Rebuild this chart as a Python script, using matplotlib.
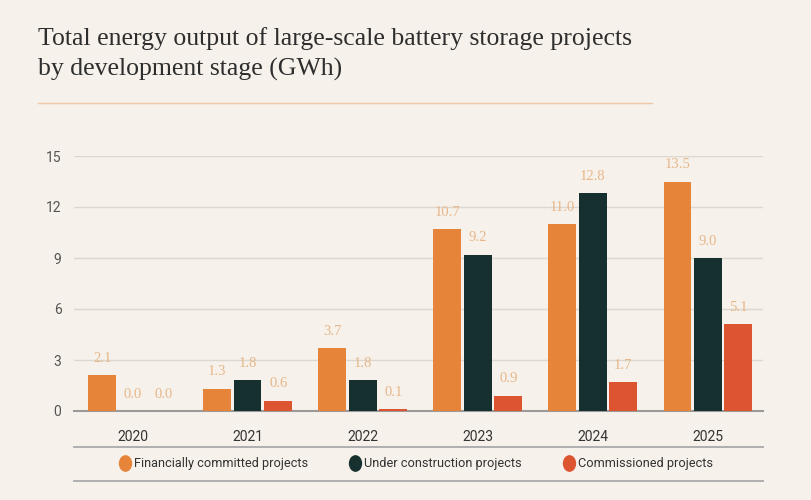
import numpy as np
import matplotlib
matplotlib.use("Agg")
import matplotlib.pyplot as plt
from matplotlib.lines import Line2D
from matplotlib.path import Path
from matplotlib.transforms import Affine2D

# data
years = ["2020", "2021", "2022", "2023", "2024", "2025"]
financially_committed = [2.1, 1.3, 3.7, 10.7, 11.0, 13.5]
under_construction = [0.0, 1.8, 1.8, 9.2, 12.8, 9.0]
commissioned = [0.0, 0.6, 0.1, 0.9, 1.7, 5.1]
series_names = ["Financially committed projects", "Under construction projects", "Commissioned projects"]
yticks = [0, 3, 6, 9, 12, 15]

bg = "#F6F1EA"
colors = ["#E6843A", "#16302F", "#DD5431"]
label_color = "#E7B78A"

W, H = 812, 500
fig = plt.figure(figsize=(W / 100, H / 100), dpi=100, facecolor=bg)
# axes box in pixel terms: x 74..763, y 156..411
ax = fig.add_axes([74 / W, (H - 411) / H, (763 - 74) / W, (411 - 156) / H])
ax.set_facecolor(bg)

x = np.arange(len(years))
step = 0.265
width = 0.24
series = [financially_committed, under_construction, commissioned]
for k, vals in enumerate(series):
    pos = x + (k - 1) * step
    ax.bar(pos, vals, width=width, color=colors[k], zorder=3)
    for px, v in zip(pos, vals):
        ax.annotate(f"{v:.1f}", (px, v), xytext=(0, 7.5), textcoords="offset points",
                    ha="center", va="bottom", color=label_color, fontsize=10.5,
                    family="Liberation Serif", zorder=4, annotation_clip=False)

ax.set_xlim(-0.51, 5.48)
ax.set_ylim(0, 15)
ax.set_yticks(yticks)
ax.set_yticklabels([str(t) for t in yticks], family="Roboto", fontsize=10, color="#555555")
ax.set_xticks(x)
ax.set_xticklabels(years, family="Roboto", fontsize=10, color="#333333")
ax.tick_params(axis="y", length=0, pad=9)
ax.tick_params(axis="x", length=0, pad=14)
ax.yaxis.grid(True, color="#DCD7CF", linewidth=1, zorder=0)
ax.set_axisbelow(True)
for s in ["top", "right", "left"]:
    ax.spines[s].set_visible(False)
ax.spines["bottom"].set_color("#9A9A9A")
ax.spines["bottom"].set_linewidth(1.5)
ax.spines["bottom"].set_zorder(2.5)

# title and rule under it
fig.text(38 / W, 1 - 27 / H, "Total energy output of large-scale battery storage projects\nby development stage (GWh)",
         family="Liberation Serif", fontsize=18.5, color="#2E2E2E", va="top", ha="left", linespacing=1.42)
fig.add_artist(Line2D([38 / W, 652 / W], [1 - 103 / H, 1 - 103 / H], color="#F0C8A6", linewidth=1))

# lines around the legend
for yy in (447, 481):
    fig.add_artist(Line2D([74 / W, 763 / W], [1 - yy / H, 1 - yy / H], color="#AAAAAA", linewidth=1.3))

# slightly tall ellipse marker like the reference
ellipse = Path.unit_circle().transformed(Affine2D().scale(0.78, 1.0))
handles = [Line2D([], [], marker=ellipse, linestyle="none", markersize=11, color=c) for c in colors]
leg = fig.legend(handles, series_names, loc="center", bbox_to_anchor=(416 / W, 1 - 464 / H), ncol=3,
                 frameon=False, handletextpad=0.2, columnspacing=3.2, handlelength=1.0,
                 prop={"family": "Roboto", "size": 9.2})
for t in leg.get_texts():
    t.set_color("#333333")

fig.savefig("out.png", dpi=100, facecolor=bg)
